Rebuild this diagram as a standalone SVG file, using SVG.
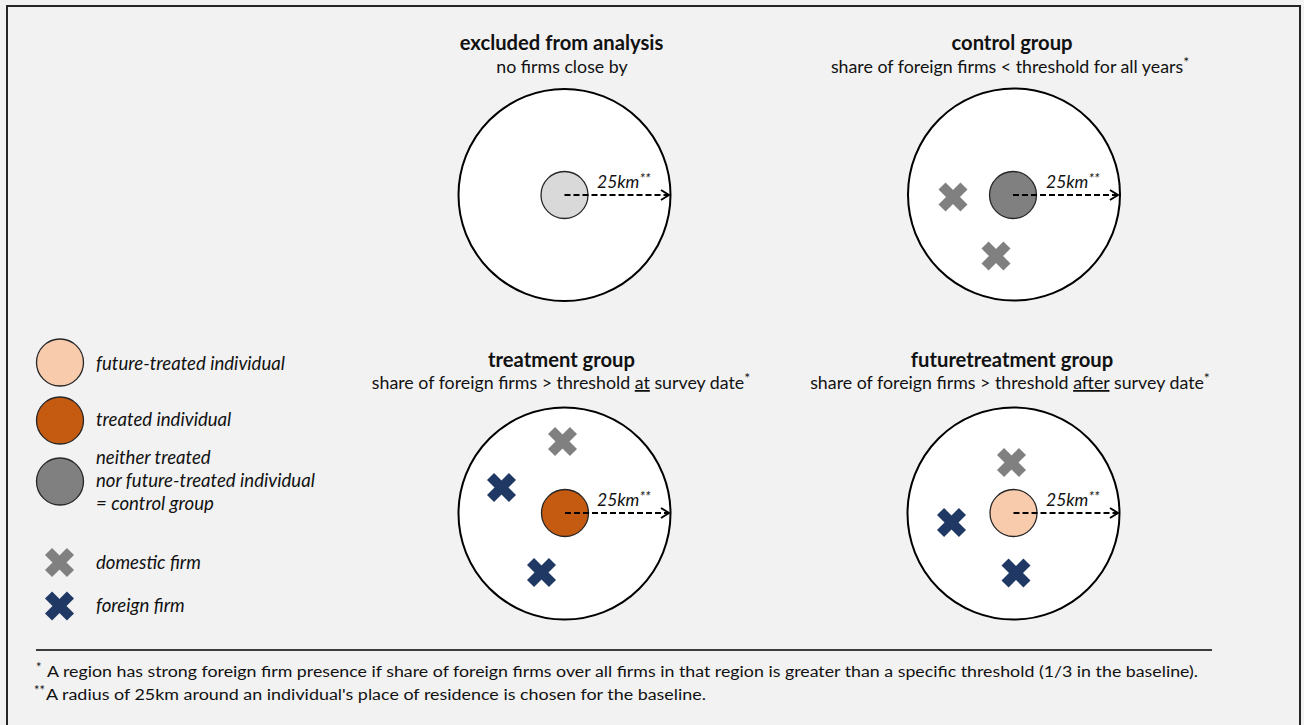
<svg xmlns="http://www.w3.org/2000/svg" xmlns:xlink="http://www.w3.org/1999/xlink" width="1304" height="725" viewBox="0 0 1304 725">
<style>
text{font-family:Lato,"Open Sans","Liberation Sans",sans-serif;fill:#111}
.t{font-size:20.2px;font-weight:bold;text-anchor:middle}
.s{font-size:17.8px;text-anchor:middle}
.lg{font-size:18.6px;font-style:italic}
.km{font-size:17.5px;font-style:italic}
.sup{font-size:14px}
.fsup{font-size:13px}
.fn{font-size:15.5px}
.big{fill:#fff;stroke:#000;stroke-width:2}
.in{stroke:#262626;stroke-width:1.3}
.dom{fill:#808080}
.for{fill:#1f3864}
.arr{fill:none;stroke:#000;stroke-width:2}
</style>
<defs>
<g id="x" transform="rotate(45)"><rect x="-15.5" y="-5" width="31" height="10"/><rect x="-5" y="-15.5" width="10" height="31"/></g>
<marker id="ah" viewBox="0 0 10 12" refX="9" refY="6" markerWidth="10" markerHeight="12" markerUnits="userSpaceOnUse" orient="auto"><path d="M1,1 L9,6 L1,11" fill="none" stroke="#000" stroke-width="2"/></marker>
</defs>
<rect width="1304" height="725" fill="#f2f2f2"/>
<path d="M7,730 V6 H1300 V730" fill="none" stroke="#262626" stroke-width="2"/>

<g id="excluded">
<text class="t" x="561.5" y="50">excluded from analysis</text>
<text class="s" x="562" y="73">no firms close by</text>
<circle class="big" cx="564.5" cy="195" r="106"/>
<circle class="in" cx="564.5" cy="195" r="23.5" fill="#d9d9d9"/>
<text class="km" x="597" y="188">25km<tspan class="sup" dy="-5">**</tspan></text>
</g>

<g id="control">
<text class="t" x="1012" y="50">control group</text>
<text class="s" x="1010" y="73">share of foreign firms &lt; threshold for all years<tspan class="sup" dy="-6">*</tspan></text>
<circle class="big" cx="1014" cy="194.5" r="106"/>
<circle class="in" cx="1013" cy="195" r="23.5" fill="#808080"/>
<use xlink:href="#x" class="dom" transform="translate(953,197)"/>
<use xlink:href="#x" class="dom" transform="translate(996,256)"/>
<text class="km" x="1046" y="188">25km<tspan class="sup" dy="-5">**</tspan></text>
</g>

<g id="treatment">
<text class="t" x="561.5" y="366.5">treatment group</text>
<text class="s" x="561" y="389">share of foreign firms &gt; threshold <tspan text-decoration="underline">at</tspan> survey date<tspan class="sup" dy="-6">*</tspan></text>
<circle class="big" cx="564.5" cy="513.5" r="106"/>
<circle class="in" cx="565" cy="513" r="23.5" fill="#c55a11"/>
<use xlink:href="#x" class="dom" transform="translate(562.5,441.5)"/>
<use xlink:href="#x" class="for" transform="translate(501.5,487.5)"/>
<use xlink:href="#x" class="for" transform="translate(541.5,572.5)"/>
<text class="km" x="597" y="506">25km<tspan class="sup" dy="-5">**</tspan></text>
</g>

<g id="futuretreatment">
<text class="t" x="1012" y="366.5">futuretreatment group</text>
<text class="s" x="1010" y="389">share of foreign firms &gt; threshold <tspan text-decoration="underline">after</tspan> survey date<tspan class="sup" dy="-6">*</tspan></text>
<circle class="big" cx="1013.5" cy="513.5" r="106"/>
<circle class="in" cx="1013.5" cy="513" r="23.5" fill="#f8cbad"/>
<use xlink:href="#x" class="dom" transform="translate(1011.5,462.5)"/>
<use xlink:href="#x" class="for" transform="translate(951.5,522.5)"/>
<use xlink:href="#x" class="for" transform="translate(1016,573)"/>
<text class="km" x="1046" y="506">25km<tspan class="sup" dy="-5">**</tspan></text>
</g>

<g id="connectors">
<line class="arr" x1="564.5" y1="195" x2="669" y2="195" stroke-dasharray="6,3" marker-end="url(#ah)"/>
<line class="arr" x1="1013" y1="195" x2="1118" y2="195" stroke-dasharray="6,3" marker-end="url(#ah)"/>
<line class="arr" x1="565" y1="513" x2="669" y2="513" stroke-dasharray="6,3" marker-end="url(#ah)"/>
<line class="arr" x1="1013.5" y1="513" x2="1118" y2="513" stroke-dasharray="6,3" marker-end="url(#ah)"/>
</g>

<g id="legend-future">
<circle class="in" cx="60" cy="362.5" r="23.5" fill="#f8cbad"/>
<text class="lg" x="96" y="370">future-treated individual</text>
</g>
<g id="legend-treated">
<circle class="in" cx="60" cy="420.5" r="23.5" fill="#c55a11"/>
<text class="lg" x="96" y="426">treated individual</text>
</g>
<g id="legend-neither">
<circle class="in" cx="60" cy="481.5" r="23.5" fill="#808080"/>
<text class="lg" x="96" y="464">neither treated</text>
<text class="lg" x="96" y="487">nor future-treated individual</text>
<text class="lg" x="96" y="510">= control group</text>
</g>
<g id="legend-domestic">
<use xlink:href="#x" class="dom" transform="translate(59.5,562.5)"/>
<text class="lg" x="96" y="569">domestic firm</text>
</g>
<g id="legend-foreign">
<use xlink:href="#x" class="for" transform="translate(59.5,606)"/>
<text class="lg" x="96" y="612">foreign firm</text>
</g>

<g id="footnotes">
<line x1="36" y1="650" x2="1212" y2="650" stroke="#000" stroke-width="1.5"/>
<text class="fsup" x="36" y="672">*</text>
<text class="fn" x="47" y="677" textLength="1151" lengthAdjust="spacingAndGlyphs">A region has strong foreign firm presence if share of foreign firms over all firms in that region is greater than a specific threshold (1/3 in the baseline).</text>
<text class="fsup" x="34" y="695">**</text>
<text class="fn" x="46" y="700" textLength="660" lengthAdjust="spacingAndGlyphs">A radius of 25km around an individual's place of residence is chosen for the baseline.</text>
</g>
</svg>
